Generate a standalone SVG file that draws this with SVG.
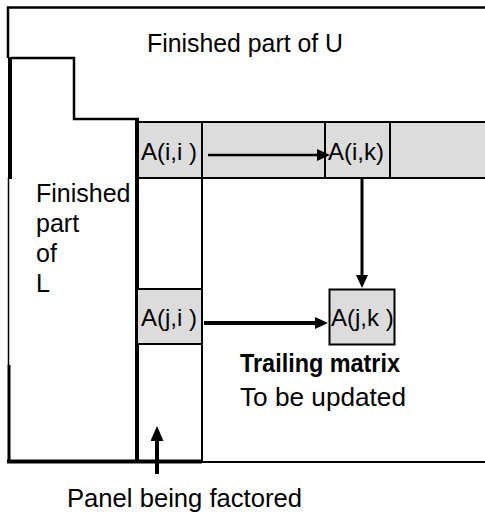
<svg xmlns="http://www.w3.org/2000/svg" width="485" height="516" viewBox="0 0 485 516">
<style>
  text { font-family: "Liberation Sans", Arial, sans-serif; fill: #000; }
  .lbl { font-size: 24px; }
  .big { font-size: 25px; }
  .cell { fill: #dcdcdc; stroke: #000; stroke-width: 2; }
  .ln { fill: none; stroke: #000; }
  .conn { stroke: #000; fill: none; }
</style>
<defs>
  <marker id="ah" viewBox="0 0 13 12" markerWidth="13" markerHeight="12" refX="5" refY="6" orient="auto" markerUnits="userSpaceOnUse">
    <path d="M0,0 L13,6 L0,12 z" fill="#000"/>
  </marker>
  <marker id="ahL" viewBox="0 0 15 13" markerWidth="15" markerHeight="13" refX="6" refY="6.5" orient="auto" markerUnits="userSpaceOnUse">
    <path d="M0,0 L15,6.5 L0,13 z" fill="#000"/>
  </marker>
</defs>

<g id="frame">
  <polyline class="ln" stroke-width="2.5" points="8,58 8,7.5 485,7.5"/>
  <polyline class="ln" stroke-width="2.5" points="11,58 74,58 74,119 139,119"/>
  <line class="ln" stroke-width="4" x1="10" y1="57" x2="10" y2="179"/>
  <line class="ln" stroke-width="1.5" x1="8.5" y1="178" x2="8.5" y2="366"/>
  <line class="ln" stroke-width="3" x1="9" y1="365" x2="9" y2="463"/>
  <line class="ln" stroke-width="4" x1="7" y1="461.5" x2="202" y2="461.5"/>
  <line class="ln" stroke-width="2" x1="202" y1="462" x2="485" y2="462"/>
</g>

<g id="row-i">
  <rect class="cell" x="137" y="122" width="350" height="56"/>
  <line class="ln" stroke-width="2" x1="202" y1="122" x2="202" y2="178"/>
  <line class="ln" stroke-width="2" x1="325" y1="122" x2="325" y2="178"/>
  <line class="ln" stroke-width="2" x1="390" y1="122" x2="390" y2="178"/>
</g>

<g id="panel">
  <line class="ln" stroke-width="4" x1="137" y1="120" x2="137" y2="462"/>
  <line class="ln" stroke-width="2" x1="202" y1="122" x2="202" y2="462"/>
</g>

<g id="node-Aii">
  <text class="lbl" x="141" y="160">A(i,i )</text>
</g>
<g id="node-Aik">
  <text class="lbl" x="328" y="160">A(i,k)</text>
</g>
<g id="node-Aji">
  <rect class="cell" x="137" y="289" width="65" height="55"/>
  <text class="lbl" x="141" y="326">A(j,i )</text>
</g>
<g id="node-Ajk">
  <rect class="cell" x="329.5" y="289.5" width="65" height="55" stroke-width="2.5"/>
  <text class="lbl" x="331" y="326">A(j,k )</text>
</g>

<g id="labels">
  <text class="big" x="147" y="52" textLength="196" lengthAdjust="spacingAndGlyphs">Finished part of U</text>
  <text class="big" x="36" y="202">Finished</text>
  <text class="big" x="36" y="232">part</text>
  <text class="big" x="36" y="262">of</text>
  <text class="big" x="36" y="292">L</text>
  <text x="240" y="372" font-weight="bold" font-size="25" textLength="160" lengthAdjust="spacingAndGlyphs">Trailing matrix</text>
  <text x="240" y="406" font-size="26" textLength="166" lengthAdjust="spacingAndGlyphs">To be updated</text>
  <text class="big" x="67" y="507" textLength="235" lengthAdjust="spacingAndGlyphs">Panel being factored</text>
</g>

<g id="connectors">
  <line class="conn" stroke-width="2.5" x1="208" y1="155" x2="322" y2="155" marker-end="url(#ah)"/>
  <line class="conn" stroke-width="3" x1="362" y1="179" x2="362" y2="280" marker-end="url(#ah)"/>
  <line class="conn" stroke-width="4" x1="204" y1="323" x2="320" y2="323" marker-end="url(#ah)"/>
  <line class="conn" stroke-width="4" x1="157" y1="474" x2="157" y2="435" marker-end="url(#ahL)"/>
</g>
</svg>
